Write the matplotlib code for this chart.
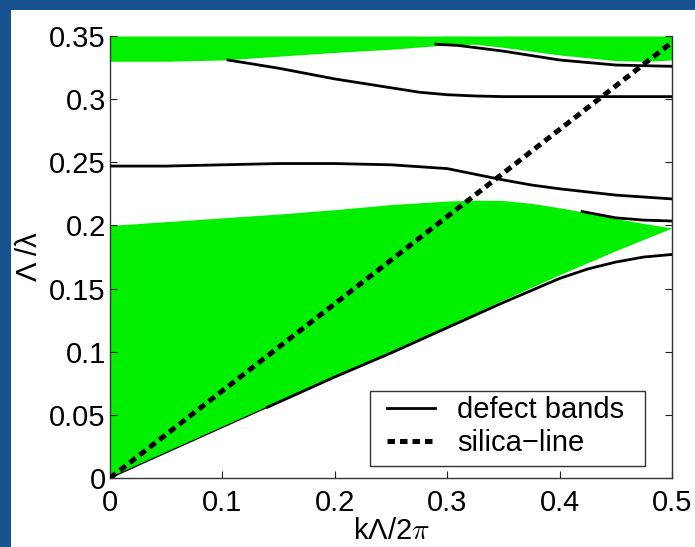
import matplotlib
matplotlib.use('Agg')
import matplotlib.pyplot as plt
from matplotlib.patches import Rectangle

plt.rcParams['font.family'] = ['Liberation Sans', 'DejaVu Sans']
plt.rcParams['mathtext.fontset'] = 'cm'

# photonic band edges (normalized frequency vs wavevector)
k_up = [0, 0.05, 0.1, 0.15, 0.2, 0.25, 0.3, 0.325, 0.35, 0.4, 0.45, 0.475, 0.5]
upper_gap_edge = [0.330, 0.330, 0.331, 0.334, 0.337, 0.3395, 0.343, 0.3435, 0.341,
                  0.335, 0.3305, 0.330, 0.331]

k_low = [0, 0.05, 0.1, 0.15, 0.2, 0.25, 0.3, 0.325, 0.35, 0.375, 0.4, 0.425, 0.45, 0.475, 0.5]
lower_band_top = [0.200, 0.203, 0.206, 0.209, 0.2125, 0.2165, 0.2193, 0.220, 0.2197,
                  0.2175, 0.214, 0.210, 0.2055, 0.2015, 0.198]
k_edge = [0, 0.1, 0.2, 0.3, 0.35, 0.4, 0.45, 0.5]
lower_band_bottom = [0, 0.041, 0.081, 0.120, 0.141, 0.161, 0.180, 0.198]

# defect bands
k_d1 = [0.105, 0.15, 0.2, 0.25, 0.275, 0.3, 0.325, 0.35, 0.4, 0.45, 0.5]
d1 = [0.331, 0.3245, 0.316, 0.309, 0.3055, 0.3035, 0.3025, 0.302, 0.302, 0.302, 0.302]
k_d2 = [0.29, 0.31, 0.35, 0.4, 0.45, 0.5]
d2 = [0.3435, 0.3425, 0.338, 0.331, 0.327, 0.326]
k_d3 = [0, 0.05, 0.1, 0.15, 0.2, 0.25, 0.3, 0.325, 0.35, 0.375, 0.4, 0.45, 0.5]
d3 = [0.247, 0.247, 0.248, 0.249, 0.249, 0.248, 0.245, 0.2405, 0.236, 0.232, 0.229, 0.224, 0.221]
k_d4 = [0.42, 0.45, 0.475, 0.5]
d4 = [0.211, 0.206, 0.2042, 0.2035]
k_d5 = [0, 0.07, 0.14]
d5 = [0, 0.028, 0.056]
k_d6 = [0.14, 0.2, 0.25, 0.3, 0.35, 0.4, 0.425, 0.45, 0.475, 0.5]
d6 = [0.056, 0.080, 0.099, 0.119, 0.139, 0.158, 0.1655, 0.171, 0.175, 0.177]

# light line in silica
k_si = [0, 0.5]
silica = [0, 0.345]

green = '#00f000'

fig = plt.figure(figsize=(6.95, 5.47), dpi=100, facecolor='#15528f')
fig.patches.append(Rectangle((11 / 695, 0), 1, 537 / 547, transform=fig.transFigure,
                             facecolor='white', edgecolor='none', zorder=-10))
ax = fig.add_axes([110 / 695, 69 / 547, 562 / 695, 442 / 547])

ax.fill_between(k_up, upper_gap_edge, 0.35, color=green, lw=0, zorder=1)
ax.fill_between(k_low, lower_band_top, 0, color=green, lw=0, zorder=1)
# mask out below the lower band edge
ax.fill_between(k_edge, lower_band_bottom, -0.01, color='white', lw=0, zorder=1.5)

ax.plot(k_d1, d1, color='black', lw=2.0, zorder=3)
ax.plot(k_d2, d2, color='black', lw=2.0, zorder=3)
ax.plot(k_d3, d3, color='black', lw=2.0, zorder=3, label='defect bands')
ax.plot(k_d4, d4, color='black', lw=2.0, zorder=3)
ax.plot(k_d5, d5, color='black', lw=0.9, zorder=3)
ax.plot(k_d6, d6, color='black', lw=2.0, zorder=3)
ax.plot(k_si, silica, color='black', lw=3.6, dashes=(1.5, 1.0), zorder=4,
        label='silica\u2212line')

ax.set_xlim(0, 0.5)
ax.set_ylim(0, 0.35)
ax.set_xticks([0, 0.1, 0.2, 0.3, 0.4, 0.5])
ax.set_xticklabels(['0', '0.1', '0.2', '0.3', '0.4', '0.5'])
ax.set_yticks([0, 0.05, 0.1, 0.15, 0.2, 0.25, 0.3, 0.35])
ax.set_yticklabels(['0', '0.05', '0.1', '0.15', '0.2', '0.25', '0.3', '0.35'])
ax.tick_params(direction='in', length=5, width=0.8, labelsize=21,
               right=True, top=False, colors='#222222', labelcolor='black')
ax.tick_params(axis='x', pad=8)
ax.tick_params(axis='y', pad=3)

for side in ['left', 'bottom', 'right']:
    ax.spines[side].set_color('#333333')
    ax.spines[side].set_linewidth(1.0)
ax.spines['top'].set_visible(False)

ax.set_xlabel('k\u039b/2$\\pi$', fontsize=21, labelpad=0)
ax.set_ylabel('\u039b /\u03bb', fontsize=21)
ax.yaxis.set_label_coords(-0.119, 0.5)

# legend entries without frame, box drawn separately
leg = ax.legend(loc='center left', bbox_to_anchor=(0.4929, 0.1165), borderaxespad=0,
                fontsize=21, frameon=False, handlelength=1.65, handletextpad=0.75,
                labelspacing=0.17, borderpad=0)
ax.add_patch(Rectangle((0.4626, 0.0271), 0.952 - 0.4626, 0.1968 - 0.0271,
                       transform=ax.transAxes, facecolor='white', edgecolor='#333333',
                       lw=1.0, zorder=5))
leg.set_zorder(6)

fig.savefig('out.png', dpi=100, facecolor=fig.get_facecolor())
